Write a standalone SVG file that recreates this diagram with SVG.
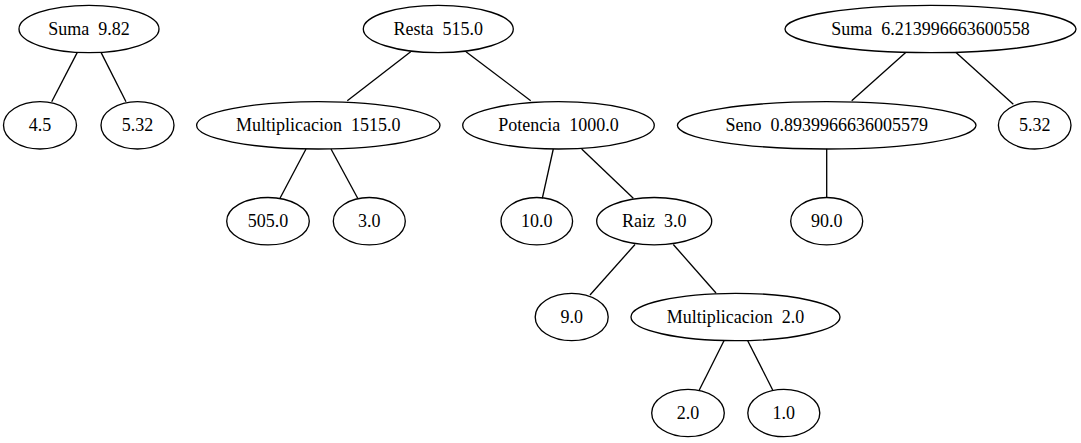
<svg xmlns="http://www.w3.org/2000/svg" width="1081" height="443" viewBox="0 0 1081 443">
<style>
ellipse{fill:none;stroke:#000;stroke-width:1.33}
line{stroke:#000;stroke-width:1.33}
text{font-family:'Liberation Serif',Tinos,'Times New Roman',Times,serif;font-size:18px;fill:#000;text-anchor:middle;white-space:pre}
</style>
<rect width="1081" height="443" fill="#fff"/>
<g id="connectors">
<line x1="77.3" y1="52.4" x2="51.7" y2="101.7"/>
<line x1="101" y1="52.4" x2="126" y2="101.7"/>
<line x1="410.7" y1="51.7" x2="347.3" y2="100.7"/>
<line x1="466" y1="51.7" x2="530.7" y2="100.7"/>
<line x1="905.7" y1="52.4" x2="851.7" y2="100.7"/>
<line x1="956" y1="52.4" x2="1013.3" y2="104.2"/>
<line x1="306" y1="149" x2="280" y2="198.3"/>
<line x1="331" y1="149" x2="357.7" y2="198.3"/>
<line x1="553.3" y1="149" x2="542.3" y2="198.3"/>
<line x1="581.7" y1="149" x2="633.3" y2="198.3"/>
<line x1="826.7" y1="148.7" x2="826.7" y2="197.3"/>
<line x1="635" y1="244.5" x2="590" y2="295"/>
<line x1="673.3" y1="244.5" x2="716" y2="293"/>
<line x1="724" y1="340.7" x2="699.3" y2="390"/>
<line x1="747.7" y1="340.7" x2="772.7" y2="390"/>
</g>
<g font-family="Liberation Serif, serif">
<g id="n_suma1"><ellipse cx="89" cy="29" rx="70" ry="23.7"/><text x="89" y="35">Suma  9.82</text></g>
<g id="n_45"><ellipse cx="40" cy="125.3" rx="36.5" ry="23.7"/><text x="40" y="131.3">4.5</text></g>
<g id="n_532a"><ellipse cx="137.5" cy="125.3" rx="36.5" ry="23.7"/><text x="137.5" y="131.3">5.32</text></g>
<g id="n_resta"><ellipse cx="438.3" cy="29" rx="75" ry="23.7"/><text x="438.3" y="35">Resta  515.0</text></g>
<g id="n_mult1"><ellipse cx="318.3" cy="125.3" rx="121.7" ry="23.7"/><text x="318.3" y="131.3">Multiplicacion  1515.0</text></g>
<g id="n_pot"><ellipse cx="558.5" cy="125.3" rx="95.8" ry="23.7"/><text x="558.5" y="131.3">Potencia  1000.0</text></g>
<g id="n_suma2"><ellipse cx="930.5" cy="29" rx="145.5" ry="23.7"/><text x="930.5" y="35">Suma  6.213996663600558</text></g>
<g id="n_seno"><ellipse cx="826.7" cy="125.3" rx="149.3" ry="23.7"/><text x="826.7" y="131.3">Seno  0.8939966636005579</text></g>
<g id="n_532b"><ellipse cx="1034.7" cy="125.3" rx="36.3" ry="23.7"/><text x="1034.7" y="131.3">5.32</text></g>
<g id="n_505"><ellipse cx="268" cy="221.2" rx="41.3" ry="23.7"/><text x="268" y="227.2">505.0</text></g>
<g id="n_30"><ellipse cx="369.3" cy="221.2" rx="36" ry="23.7"/><text x="369.3" y="227.2">3.0</text></g>
<g id="n_100"><ellipse cx="536.8" cy="221.2" rx="35.8" ry="23.7"/><text x="536.8" y="227.2">10.0</text></g>
<g id="n_raiz"><ellipse cx="654.2" cy="221.2" rx="57.5" ry="23.7"/><text x="654.2" y="227.2">Raiz  3.0</text></g>
<g id="n_900"><ellipse cx="826.7" cy="221.2" rx="36" ry="23.7"/><text x="826.7" y="227.2">90.0</text></g>
<g id="n_90"><ellipse cx="571.7" cy="317" rx="36.5" ry="23.7"/><text x="571.7" y="323">9.0</text></g>
<g id="n_mult2"><ellipse cx="735.5" cy="317" rx="104.5" ry="23.7"/><text x="735.5" y="323">Multiplicacion  2.0</text></g>
<g id="n_20"><ellipse cx="688" cy="413" rx="36.3" ry="23.7"/><text x="688" y="419">2.0</text></g>
<g id="n_10"><ellipse cx="783.8" cy="413" rx="36" ry="23.7"/><text x="783.8" y="419">1.0</text></g>
</g>
</svg>
